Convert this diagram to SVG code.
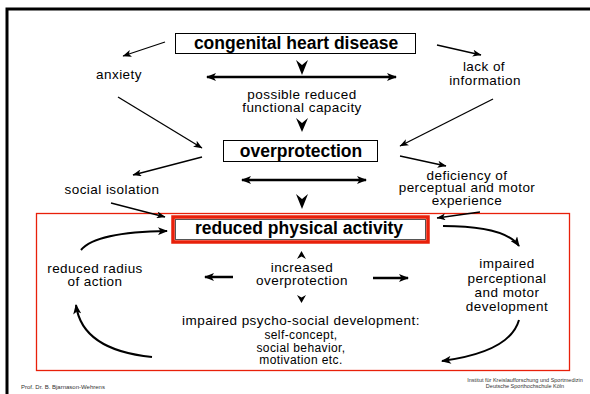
<svg xmlns="http://www.w3.org/2000/svg" width="590" height="394" viewBox="0 0 590 394">
<style>
text{font-family:"Liberation Sans",Arial,sans-serif;fill:#000}
.t{font-size:13.5px;letter-spacing:0.45px;text-anchor:middle}
.s{font-size:12px;letter-spacing:0.4px;text-anchor:middle}
.b{font-size:17.5px;font-weight:bold;text-anchor:middle}
.f{font-size:6px;fill:#333}
.ln{fill:none;stroke:#000;stroke-width:1.3;marker-end:url(#a)}
.hl{fill:none;stroke:#000;stroke-width:2.5;marker-end:url(#h);marker-start:url(#h)}
.hs{fill:none;stroke:#000;stroke-width:2.5;marker-end:url(#h)}
.cv{fill:none;stroke:#000;stroke-width:2;marker-end:url(#c)}
.box{fill:#fff;stroke:#000;stroke-width:1}
</style>
<defs>
<marker id="a" viewBox="0 0 10 8" refX="9.5" refY="4" markerWidth="10" markerHeight="7" markerUnits="userSpaceOnUse" orient="auto"><path d="M0,0 L10,4 L0,8 L2.5,4 z"/></marker>
<marker id="h" viewBox="0 0 10 8" refX="9" refY="4" markerWidth="12" markerHeight="8" markerUnits="userSpaceOnUse" orient="auto-start-reverse"><path d="M0,0 L10,4 L0,8 L2.5,4 z"/></marker>
<marker id="c" viewBox="0 0 10 8" refX="9" refY="4" markerWidth="11" markerHeight="8" markerUnits="userSpaceOnUse" orient="auto"><path d="M0,0 L10,4 L0,8 L2.5,4 z"/></marker>
</defs>
<rect width="590" height="394" fill="#fff"/>
<path d="M7,394 V9 H590" fill="none" stroke="#000" stroke-width="3"/>
<rect x="36.5" y="213.5" width="533" height="157" fill="none" stroke="#e8200a" stroke-width="1.3"/>

<g id="connectors">
<line class="ln" x1="165" y1="42" x2="123" y2="56"/>
<line class="ln" x1="118" y1="97" x2="202" y2="148"/>
<line class="ln" x1="202" y1="157" x2="133" y2="175"/>
<line class="ln" x1="111" y1="203" x2="165" y2="217"/>
<line class="ln" x1="437" y1="45" x2="481" y2="55"/>
<line class="ln" x1="493" y1="99" x2="400" y2="146"/>
<line class="ln" x1="400" y1="156" x2="446" y2="166"/>
<line class="ln" x1="480" y1="212" x2="437" y2="218"/>
<line class="hl" x1="207" y1="77" x2="396" y2="77"/>
<line class="hl" x1="242" y1="180" x2="366" y2="180"/>
<line class="hs" x1="233" y1="277" x2="205" y2="277"/>
<line class="hs" x1="373" y1="278" x2="408" y2="278"/>
<path class="cv" d="M81,250 Q96,232 167,231"/>
<path class="cv" d="M152,357 Q82,350 76,305"/>
<path class="cv" d="M443,226 Q505,226 519,246"/>
<path class="cv" d="M519,320 Q510,352 442,361"/>
<path d="M296,60 L302,75 L308,60 L302,65 z"/>
<path d="M296,118 L302,132 L308,118 L302,123 z"/>
<path d="M296,194 L302,209 L308,194 L302,199 z"/>
<path d="M297,259 L301.5,251 L306,259 L301.5,256.5 z"/>
<path d="M297,295 L301.5,303 L306,295 L301.5,297.5 z"/>
</g>

<g id="congenital"><rect class="box" x="175.5" y="33.5" width="240" height="20"/><text class="b" x="296" y="49">congenital heart disease</text></g>
<g id="overprotection"><rect class="box" x="223.5" y="140.5" width="154" height="21"/><text class="b" x="301" y="157">overprotection</text></g>
<g id="reduced"><rect x="173" y="217" width="255" height="25" fill="#fff" stroke="#e8200a" stroke-width="3.5"/><rect x="175.5" y="219.5" width="250" height="20" fill="none" stroke="#555" stroke-width="1"/><text class="b" x="299" y="234">reduced physical activity</text></g>
<g id="anxiety"><text class="t" x="119" y="79">anxiety</text></g>
<g id="lack"><text class="t" x="484" y="71">lack of</text><text class="t" x="485" y="85">information</text></g>
<g id="possible"><text class="t" x="302" y="99">possible reduced</text><text class="t" x="302" y="112">functional capacity</text></g>
<g id="social"><text class="t" x="112" y="194">social isolation</text></g>
<g id="deficiency"><text class="t" x="467" y="180">deficiency of</text><text class="t" x="467" y="192">perceptual and motor</text><text class="t" x="467" y="205">experience</text></g>
<g id="radius"><text class="t" x="95" y="273">reduced radius</text><text class="t" x="95" y="286">of action</text></g>
<g id="increased"><text class="t" x="302" y="272">increased</text><text class="t" x="302" y="285">overprotection</text></g>
<g id="impaired-pm"><text class="t" x="507" y="268">impaired</text><text class="t" x="507" y="283">perceptional</text><text class="t" x="507" y="297">and motor</text><text class="t" x="507" y="311">development</text></g>
<g id="psycho"><text class="t" x="301" y="325">impaired psycho-social development:</text><text class="s" x="301" y="339">self-concept,</text><text class="s" x="301" y="352">social behavior,</text><text class="s" x="301" y="364">motivation etc.</text></g>
<text class="f" x="21" y="389">Prof. Dr. B. Bjarnason-Wehrens</text>
<text class="f" x="525" y="382" style="text-anchor:middle;font-size:5.5px">Institut für Kreislaufforschung und Sportmedizin</text>
<text class="f" x="525" y="388" style="text-anchor:middle;font-size:5.5px">Deutsche Sporthochschule Köln</text>
</svg>
